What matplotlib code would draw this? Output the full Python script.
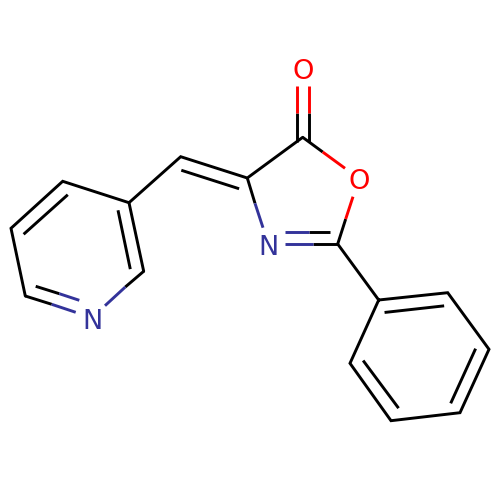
import matplotlib
matplotlib.use('Agg')
import matplotlib.pyplot as plt

black = '#000000'
red = '#FF0000'
blue = '#33339A'

# atom labels: x, y, text, colour
label_x = [303, 359.3, 268.7, 92.3]
label_y = [69, 179.3, 245, 319]
label_text = ['O', 'O', 'N', 'N']
label_col = [red, red, blue, blue]

# carbon-carbon bonds as open paths
ring_x = [[143.7, 129, 62.7, 11, 25.3], [129, 180.7, 247.3, 302.7],
          [378.7, 447.7, 489, 460, 391, 350, 378.7, 337.7]]
ring_y = [[271.3, 202.7, 181.3, 228.3, 296], [202.7, 156.7, 178, 137.3],
          [300, 292.7, 349.3, 412.7, 420.7, 363.3, 300, 244]]

# inner lines of the double bonds, all black
inner_x0 = [118.3, 66.7, 182.7, 386, 475, 397.7]
inner_y0 = [211.7, 195.7, 170.7, 312.3, 350, 407]
inner_x1 = [130, 24.7, 237.7, 442.7, 451.3, 364]
inner_y1 = [267.7, 233.3, 188.3, 306, 402, 361.7]

# two colour bonds: carbon end, middle, hetero end
hetero_x0 = [296.7, 309, 302.7, 337.7, 247.3, 337.7, 330, 143.7, 25.3, 35.7]
hetero_y0 = [141.5, 141.5, 137.3, 244, 178, 244, 231.7, 271.3, 296, 286.3]
hetero_xm = [296.7, 309, 322.7, 345.7, 255, 313.3, 308.7, 125.3, 51.7, 59.3]
hetero_ym = [112.7, 112.7, 152, 219, 203.3, 244, 231.7, 287, 304.3, 293.7]
hetero_x1 = [296.7, 309, 345, 353, 263, 285.3, 285.3, 105, 75.7, 79.3]
hetero_y1 = [86, 86, 168.3, 196.7, 227.7, 244, 231.7, 305.7, 312.3, 300.3]
hetero_col = [red, red, red, red, blue, blue, blue, blue, blue, blue]

lw = 2.1

fig = plt.figure(figsize=[5, 5], dpi=100)
ax = fig.add_axes([0, 0, 1, 1])
ax.axis([0, 500, 500, 0])
ax.axis('off')

for xs, ys in zip(ring_x, ring_y):
    ax.plot(xs, ys, c=black, lw=lw, solid_joinstyle='miter', solid_capstyle='round')

for i in range(len(inner_x0)):
    ax.plot([inner_x0[i], inner_x1[i]], [inner_y0[i], inner_y1[i]], c=black, lw=lw)

for i in range(len(hetero_x0)):
    ax.plot([hetero_x0[i], hetero_xm[i]], [hetero_y0[i], hetero_ym[i]], c=black, lw=lw,
            solid_capstyle='butt')
    ax.plot([hetero_xm[i], hetero_x1[i]], [hetero_ym[i], hetero_y1[i]], c=hetero_col[i], lw=lw,
            solid_capstyle='butt')

for i in range(len(label_text)):
    ax.text(label_x[i], label_y[i], label_text[i], color=label_col[i], fontsize=19.5,
            ha='center', va='center_baseline', family='DejaVu Sans')

fig.savefig('out.png', dpi=100)
